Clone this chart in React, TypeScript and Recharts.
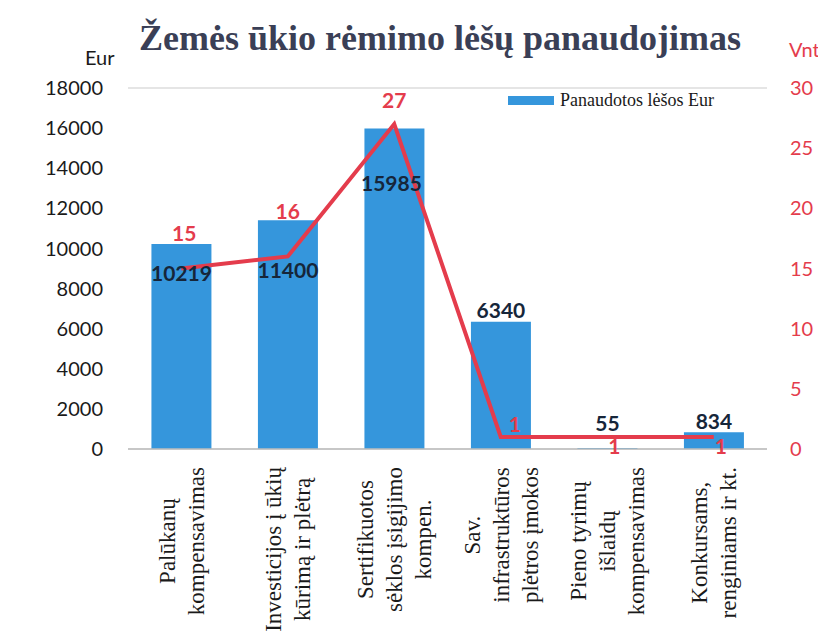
import React from 'react';
import { ComposedChart, Bar, Line, XAxis, YAxis, CartesianGrid, LabelList } from 'recharts';

// category labels, '\n' marks the line breaks used under the axis
const categories = [
  'Palūkanų\nkompensavimas',
  'Investicijos į ūkių\nkūrimą ir plėtrą',
  'Sertifikuotos\nsėklos įsigijimo\nkompen.',
  'Sav.\ninfrastruktūros\nplėtros įmokos',
  'Pieno tyrimų\nišlaidų\nkompensavimas',
  'Konkursams,\nrenginiams ir kt.',
];
const eurValues = [10219, 11400, 15985, 6340, 55, 834];
const vntValues = [15, 16, 27, 1, 1, 1];
const eurTicks = [0, 2000, 4000, 6000, 8000, 10000, 12000, 14000, 16000, 18000];
const vntTicks = [0, 5, 10, 15, 20, 25, 30];

const data = categories.map((name, i) => ({ name, eur: eurValues[i], vnt: vntValues[i] }));

// label nudges (dx, dy) relative to the mark
const barLabelShift = [[0, 28], [0, 49], [-3, 54], [0, -12], [0, -25], [0, -12]];
const lineLabelShift = [[3, -36], [0, -46], [0, -25], [14, -13], [7, 9], [7, 9]];

const RED = '#e43c4c';
const BLUE = '#3596dc';
const CAT_FONT = '23px "Liberation Serif", "Times New Roman", serif';

let ctx: CanvasRenderingContext2D | null = null;
const measure = (s: string) => {
  if (!ctx) ctx = document.createElement('canvas').getContext('2d');
  if (!ctx) return s.length * 10.5;
  ctx.font = CAT_FONT;
  return ctx.measureText(s).width;
};

const CatTick = (props: any) => {
  const { x, y, payload } = props;
  const lines: string[] = String(payload.value).split('\n');
  const maxW = Math.max(...lines.map(measure));
  const center = 10 + maxW / 2;
  return (
    <g transform={`translate(${x},${y})`}>
      <text transform="rotate(-90)" textAnchor="middle" fill="#1a1a1a" style={{ font: CAT_FONT }}>
        {lines.map((l, i) => (
          <tspan key={i} x={-center} y={(i - (lines.length - 1) / 2) * 29} dy="0.35em">
            {l}
          </tspan>
        ))}
      </text>
    </g>
  );
};

const BarValue = (props: any) => {
  const { x, y, width, value, index } = props;
  const [dx, dy] = barLabelShift[index] || [0, -10];
  return (
    <text
      x={x + width / 2 + dx}
      y={y + dy}
      textAnchor="middle"
      dominantBaseline="central"
      fill="#16263a"
      style={{ fontFamily: 'Lato, sans-serif', fontWeight: 700, fontSize: 21 }}
    >
      {value}
    </text>
  );
};

const LineValue = (props: any) => {
  const { x, y, value, index } = props;
  const [dx, dy] = lineLabelShift[index] || [0, -20];
  return (
    <text
      x={x + dx}
      y={y + dy}
      textAnchor="middle"
      dominantBaseline="central"
      fill={RED}
      style={{ fontFamily: 'Lato, sans-serif', fontWeight: 700, fontSize: 21 }}
    >
      {value}
    </text>
  );
};

const App: React.FC = () => {
  return (
    <div style={{ position: 'absolute', left: 0, top: 0, width: 818, height: 637, background: '#fff' }}>
      <div
        style={{
          position: 'absolute',
          left: 0,
          width: 880,
          top: 17,
          textAlign: 'center',
          fontFamily: '"Liberation Serif", "Times New Roman", serif',
          fontWeight: 700,
          fontSize: 36,
          color: '#3a3f56',
        }}
      >
        Žemės ūkio rėmimo lėšų panaudojimas
      </div>
      <div style={{ position: 'absolute', left: 85, top: 45, fontFamily: 'Lato, sans-serif', fontSize: 20, color: '#1a1a1a' }}>
        Eur
      </div>
      <div style={{ position: 'absolute', left: 789, top: 37, fontFamily: 'Lato, sans-serif', fontSize: 20, color: RED }}>
        Vnt
      </div>
      <ComposedChart
        width={818}
        height={637}
        data={data}
        margin={{ top: 88, right: 0, bottom: 0, left: 0 }}
        barCategoryGap="22%"
      >
        <CartesianGrid vertical={false} stroke="#dcdcdc" strokeWidth={1.3} />
        <XAxis
          dataKey="name"
          height={188}
          tick={<CatTick />}
          tickLine={false}
          axisLine={{ stroke: '#bdbdbd', strokeWidth: 1.5 }}
          interval={0}
        />
        <YAxis
          yAxisId="eur"
          width={128}
          domain={[0, 18000]}
          ticks={eurTicks}
          tickLine={false}
          axisLine={false}
          tickSize={0}
          tickMargin={25}
          tick={{ fill: '#1a1a1a', fontSize: 20, fontFamily: 'Lato, sans-serif' }}
        />
        <YAxis
          yAxisId="vnt"
          orientation="right"
          width={51}
          domain={[0, 30]}
          ticks={vntTicks}
          tickLine={false}
          axisLine={false}
          tickSize={0}
          tickMargin={23}
          tick={{ fill: RED, fontSize: 20, fontFamily: 'Lato, sans-serif' }}
        />
        <Bar yAxisId="eur" dataKey="eur" name="Panaudotos lėšos Eur" fill={BLUE} isAnimationActive={false}>
          <LabelList dataKey="eur" content={<BarValue />} />
        </Bar>
        <Line
          yAxisId="vnt"
          dataKey="vnt"
          type="linear"
          stroke={RED}
          strokeWidth={4}
          dot={false}
          activeDot={false}
          isAnimationActive={false}
        >
          <LabelList dataKey="vnt" content={<LineValue />} />
        </Line>
      </ComposedChart>
      <div
        style={{
          position: 'absolute',
          left: 508,
          top: 90,
          display: 'flex',
          alignItems: 'center',
          fontFamily: '"Liberation Serif", serif',
          fontSize: 18,
          color: '#1a1a1a',
        }}
      >
        <span style={{ display: 'inline-block', width: 46, height: 9, background: BLUE, marginRight: 6 }} />
        Panaudotos lėšos Eur
      </div>
    </div>
  );
};

export default App;
